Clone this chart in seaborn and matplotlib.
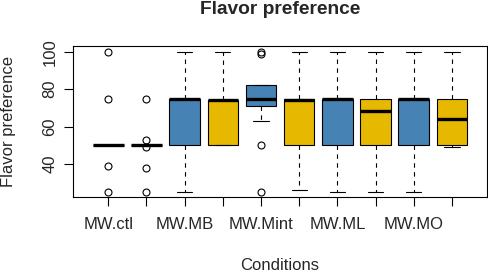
import pandas as pd
import seaborn as sns
import matplotlib.pyplot as plt

# --- values (one list per box) ---
groups = ["MW.ctl", "MW.ctl.b", "MW.MB", "MW.MB.b", "MW.Mint",
          "MW.Mint.b", "MW.ML", "MW.ML.b", "MW.MO", "MW.MO.b"]
tick_labels = ["MW.ctl", "", "MW.MB", "", "MW.Mint", "", "MW.ML", "", "MW.MO", ""]

ctl_a = [25, 39, 50, 50, 50, 50, 50, 50, 50, 50, 50, 50, 75, 100]
ctl_b = [25, 38, 49, 50, 50, 50, 50, 50, 50, 50, 50, 50, 50, 53, 75]
mb_a = [25, 50, 50, 50, 75, 75, 75, 75, 75, 100]
mb_b = [50, 50, 50, 74, 74, 74, 74, 74, 100]
mint_a = [25, 50, 63, 71, 72, 74, 75, 78, 80, 82, 82, 99, 100]
mint_b = [26, 50, 50, 60, 74, 75, 75, 80, 100]
ml_a = [25, 50, 50, 50, 75, 75, 75, 75, 75, 100]
ml_b = [25, 50, 50, 60, 68.5, 75, 75, 80, 100]
mo_a = [25, 50, 50, 50, 75, 75, 75, 75, 75, 100]
mo_b = [49, 50, 50, 60, 64, 70, 75, 80, 100]

box_colors = ["white", "white", "#4682B4", "#E6B800", "#4682B4",
              "#E6B800", "#4682B4", "#E6B800", "#4682B4", "#E6B800"]

values = [ctl_a, ctl_b, mb_a, mb_b, mint_a, mint_b, ml_a, ml_b, mo_a, mo_b]
df = pd.concat(
    [pd.DataFrame({"group": g, "pref": v}) for g, v in zip(groups, values)],
    ignore_index=True,
)

sns.set_style("white")
plt.rcParams["font.family"] = ["Liberation Sans", "DejaVu Sans"]

fig = plt.figure(figsize=(4.89, 2.73), dpi=100)
ax = fig.add_axes([0.1503, 0.2766, 0.8456, 0.556])

sns.boxplot(
    data=df, x="group", y="pref", hue="group", order=groups, hue_order=groups,
    palette=dict(zip(groups, box_colors)), legend=False, saturation=1,
    width=0.8, linecolor="black", linewidth=0.8, ax=ax,
    medianprops=dict(color="black", linewidth=2.4),
    whiskerprops=dict(color="black", linewidth=0.8, linestyle=(0, (4, 4))),
    capprops=dict(color="black", linewidth=0.8),
    flierprops=dict(marker="o", markersize=5, markerfacecolor="none",
                    markeredgecolor="black", markeredgewidth=0.8),
    capwidths=0.4,
)

ax.set_xlim(-0.91, 9.92)
ax.set_ylim(22.2, 103.2)
ax.set_yticks([40, 60, 80, 100])
ax.set_xticks(range(len(groups)))
ax.set_xticklabels(tick_labels)
ax.set_xlabel("")
ax.set_ylabel("")

for s in ax.spines.values():
    s.set_color("black")
    s.set_linewidth(0.8)

ax.tick_params(axis="both", which="both", direction="out", length=6.5,
               width=0.8, color="black", labelsize=12, left=True, bottom=True)
ax.tick_params(axis="x", pad=7.5)
ax.tick_params(axis="y", pad=5)
for lab in ax.get_yticklabels():
    lab.set_rotation(90)
    lab.set_va("center")

fig.text(280 / 489, 1 - 10 / 273, "Flavor preference", ha="center", va="center",
         fontsize=13.8, fontweight="bold")
fig.text(280 / 489, 1 - 265 / 273, "Conditions", ha="center", va="center",
         fontsize=12)
fig.text(9 / 489, 1 - 121.6 / 273, "Flavor preference", ha="center", va="center",
         rotation=90, fontsize=12)

fig.savefig("out.png", dpi=100)
